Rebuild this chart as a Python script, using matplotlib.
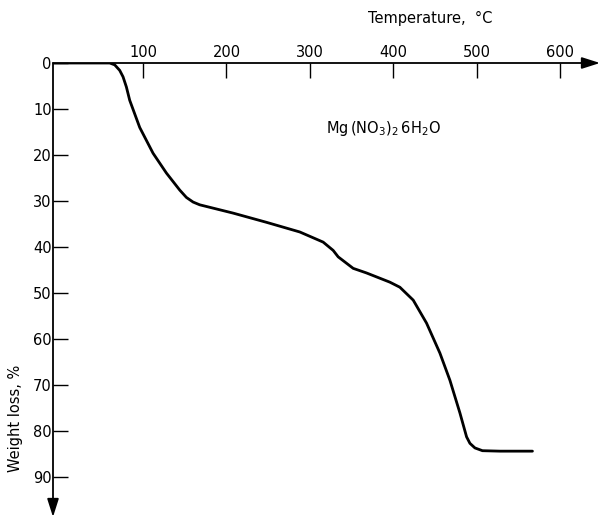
import matplotlib
matplotlib.use("Agg")
import matplotlib.pyplot as plt

# TG curve of Mg(NO3)2·6H2O
temperature = [-8, 60, 66, 72, 76, 80, 84, 96, 112, 128, 144, 152, 160, 168, 208, 248,
               288, 316, 328, 334, 352, 368, 396, 408, 424, 440, 456, 468, 480, 488,
               492, 498, 507, 528, 567]
weight_loss = [0, 0, 0.4, 1.6, 3.0, 5.2, 8.1, 14.0, 19.6, 23.9, 27.6, 29.2, 30.2, 30.8,
               32.6, 34.6, 36.7, 38.9, 40.7, 42.1, 44.6, 45.6, 47.6, 48.7, 51.5, 56.5,
               63.0, 68.9, 76.0, 81.2, 82.6, 83.6, 84.2, 84.3, 84.3]

x_ticks = [100, 200, 300, 400, 500, 600]
y_ticks = [0, 10, 20, 30, 40, 50, 60, 70, 80, 90]

W, H = 603, 518
fig = plt.figure(figsize=(W / 100, H / 100), dpi=100)
plt.rcParams["font.family"] = ["DejaVu Sans"]

# axes box: origin at (53, 63) px, arrows reaching (600, 517) px
ax = fig.add_axes([53 / W, 1 - 517 / H, (600 - 53) / W, (517 - 63) / H])
ax.set_xlim(-8, 648)
ax.set_ylim(98.6, 0)

ax.plot(temperature, weight_loss, color="black", lw=2.0,
        solid_capstyle="round", solid_joinstyle="round")

for s in ax.spines.values():
    s.set_visible(False)

# axis lines with arrow heads
arrow = dict(arrowstyle="-|>,head_length=1.1,head_width=0.35", color="black",
             lw=1.3, shrinkA=0, shrinkB=0)
ax.annotate("", xy=(1, 1), xytext=(0, 1), xycoords="axes fraction",
            arrowprops=arrow, annotation_clip=False)
ax.annotate("", xy=(0, 0), xytext=(0, 1), xycoords="axes fraction",
            arrowprops=arrow, annotation_clip=False)

ax.xaxis.set_ticks_position("top")
ax.set_xticks(x_ticks)
ax.set_xticklabels([str(t) for t in x_ticks])
ax.set_yticks(y_ticks)
ax.set_yticklabels([str(t) for t in y_ticks])
ax.tick_params(axis="x", direction="in", length=11, width=1, pad=2, labelsize=10.5)
ax.tick_params(axis="y", direction="in", length=11, width=1, pad=1, labelsize=10.5)

fig.text(430 / W, 1 - 18 / H, "Temperature,  °C", ha="center", va="center", fontsize=10.5)
fig.text(16 / W, 1 - 418 / H, "Weight loss, %", rotation=90, ha="center", va="center",
         fontsize=10.5)
ax.text(388, 14.2, r"Mg$\,$(NO$_3$)$_2\,$6H$_2$O", ha="center", va="center", fontsize=10.5)

fig.savefig("out.png", dpi=100)
